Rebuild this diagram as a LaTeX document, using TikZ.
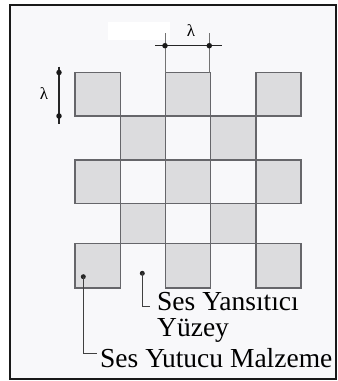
\documentclass[tikz,border=0pt]{standalone}
\usepackage{fontspec}
\setmainfont{Liberation Serif}
\definecolor{cellfill}{HTML}{DCDCDE}
\definecolor{celledge}{HTML}{66666A}
\definecolor{bgfill}{HTML}{F8F8FA}
\tikzset{
  cell/.style={fill=cellfill, draw=celledge, line width=1.4pt},
  dimline/.style={draw=black!85, line width=1.3pt},
  extline/.style={draw=black!55, line width=0.7pt},
  dimdot/.style={circle, fill=black!90, inner sep=0pt, minimum size=5.5pt},
  leaddot/.style={circle, fill=black!85, inner sep=0pt, minimum size=5pt},
  leader/.style={draw=black!75, line width=0.9pt},
  lbl/.style={font=\fontsize{27.5}{30}\selectfont, inner sep=0pt, anchor=base west},
  lam/.style={font=\fontsize{17}{19}\selectfont, inner sep=0pt}
}
\begin{document}
\begin{tikzpicture}[x=1pt,y=-1pt]
\useasboundingbox (0,0) rectangle (338,381);
% frame
\fill[white] (0,0) rectangle (338,381);
\draw[fill=bgfill, draw=black!90, line width=2pt] (9.5,5) rectangle (335.5,379);
\fill[white] (108,22) rectangle (170,40);
% cells
\foreach \c/\r in {0/0,2/0,4/0,1/1,3/1,0/2,2/2,4/2,1/3,3/3,0/4,2/4,4/4}{
  \pgfmathsetmacro{\xa}{75+45.2*\c}
  \pgfmathsetmacro{\xb}{75+45.2*(\c+1)}
  \pgfmathsetmacro{\ya}{{72.5,116,160,203.3,243.3}[\r]}
  \pgfmathsetmacro{\yb}{{116,160,203.3,243.3,288}[\r]}
  \draw[cell] (\xa,\ya) rectangle (\xb,\yb);
}
% horizontal dimension
\coordinate (hx1) at (165,33);
\coordinate (hx2) at (209.3,33);
\coordinate (hx1b) at (165,72.5);
\coordinate (hx2b) at (209.3,72.5);
\draw[extline] (hx1) -- (hx1b);
\draw[extline] (hx2) -- (hx2b);
\coordinate (hl) at (155,45.7);
\coordinate (hr) at (221.5,45.7);
\draw[dimline] (hl) -- (hr);
\node[dimdot] (hd1) at (165,45.7) {};
\node[dimdot] (hd2) at (209.3,45.7) {};
\node[lam] (hlam) at (191,31) {λ};
% vertical dimension
\coordinate (vt) at (59,66.5);
\coordinate (vb) at (59,124);
\draw[dimline] (vt) -- (vb);
\node[dimdot] (vd1) at (59,72.5) {};
\node[dimdot] (vd2) at (59,116) {};
\node[lam] (vlam) at (44,94) {λ};
% labels
\node[leaddot] (d1) at (142.3,273.3) {};
\node[leaddot] (d2) at (83.3,276.7) {};
\node[lbl] (t1) at (157,310.7) {Ses Yansıtıcı};
\node[lbl] (t2) at (157,336.7) {Yüzey};
\node[lbl] (t3) at (100,367) {Ses Yutucu Malzeme};
\coordinate (e1) at (150,306.7);
\coordinate (e2) at (97,353);
\draw[leader] (d1.center) |- (e1);
\draw[leader] (d2.center) |- (e2);
\end{tikzpicture}
\end{document}
